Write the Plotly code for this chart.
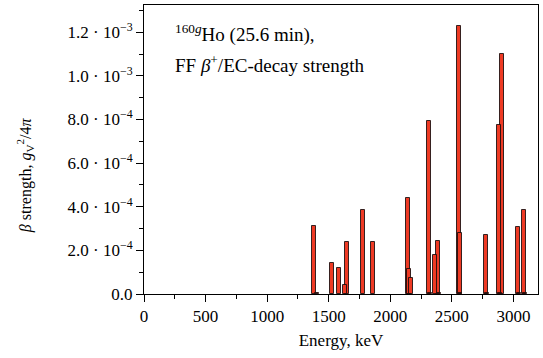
import plotly.graph_objects as go

# Transition energies (keV) and FF beta+/EC strengths (g_V^2/4pi)
energies = [2559, 2908, 2313, 2886, 2145, 1781, 3087, 1381, 3041, 2570, 2778,
            2386, 1650, 1863, 2364, 1530, 1581, 2155, 2166, 1634, 1402,
            2320, 2393, 2566, 2783, 2892, 3046, 3093]
strengths = [1.229e-3, 1.10e-3, 7.94e-4, 7.75e-4, 4.41e-4, 3.86e-4, 3.86e-4, 3.13e-4,
             3.05e-4, 2.79e-4, 2.70e-4, 2.43e-4, 2.38e-4, 2.38e-4, 1.80e-4, 1.42e-4,
             1.19e-4, 1.16e-4, 0.73e-4, 0.43e-4, 0.05e-4,
             0.04e-4, 0.04e-4, 0.04e-4, 0.04e-4, 0.04e-4, 0.04e-4, 0.04e-4]

y_tickvals = [0, 2e-4, 4e-4, 6e-4, 8e-4, 1.0e-3, 1.2e-3]
y_ticktext = ["0.0", "2.0 · 10<sup>−4</sup>", "4.0 · 10<sup>−4</sup>", "6.0 · 10<sup>−4</sup>",
              "8.0 · 10<sup>−4</sup>", "1.0 · 10<sup>−3</sup>", "1.2 · 10<sup>−3</sup>"]
x_tickvals = [0, 500, 1000, 1500, 2000, 2500, 3000]

font_family = "Liberation Serif, DejaVu Serif, serif"

fig = go.Figure()
fig.add_trace(go.Bar(
    x=energies, y=strengths, width=32,
    marker=dict(color="rgb(238,58,36)", line=dict(color="rgba(20,10,10,0.85)", width=1)),
    showlegend=False,
))

fig.update_layout(
    width=543, height=358,
    margin=dict(l=144, r=5, t=5, b=64),
    paper_bgcolor="white", plot_bgcolor="white",
    barmode="overlay", bargap=0,
    font=dict(family=font_family, size=17, color="black"),
    annotations=[
        dict(text="<sup>160<i>g</i></sup>Ho (25.6 min),", xref="paper", yref="paper",
             x=0.073, y=0.9, xanchor="left", yanchor="middle", showarrow=False,
             font=dict(family=font_family, size=19)),
        dict(text="FF <i>β</i><sup>+</sup>/EC-decay strength", xref="paper", yref="paper",
             x=0.073, y=0.795, xanchor="left", yanchor="middle", showarrow=False,
             font=dict(family=font_family, size=19)),
        dict(text="<i>β</i> strength, <i>g</i><sub>V</sub><sup>2</sup>/4<i>π</i>",
             xref="paper", yref="paper", x=-0.303, y=0.41, xanchor="center", yanchor="middle",
             textangle=-90, showarrow=False, font=dict(family=font_family, size=16)),
    ],
)

fig.update_xaxes(
    range=[0, 3200], tickvals=x_tickvals, ticks="outside", ticklen=7, tickcolor="black",
    showline=True, linecolor="black", linewidth=1, mirror=True, showgrid=False, zeroline=False,
    minor=dict(dtick=250, tick0=0, ticks="outside", ticklen=4, tickcolor="black", showgrid=False),
    title=dict(text="Energy, keV", font=dict(family=font_family, size=17), standoff=8),
    tickfont=dict(family=font_family, size=17),
)
fig.update_yaxes(
    range=[0, 1.325e-3], tickvals=y_tickvals, ticktext=y_ticktext, ticks="outside", ticklen=7,
    tickcolor="black",
    showline=True, linecolor="black", linewidth=1, mirror=True, showgrid=False, zeroline=False,
    minor=dict(dtick=1e-4, tick0=0, ticks="outside", ticklen=4, tickcolor="black", showgrid=False),
    tickfont=dict(family=font_family, size=17),
)

fig.write_html("out.html")
